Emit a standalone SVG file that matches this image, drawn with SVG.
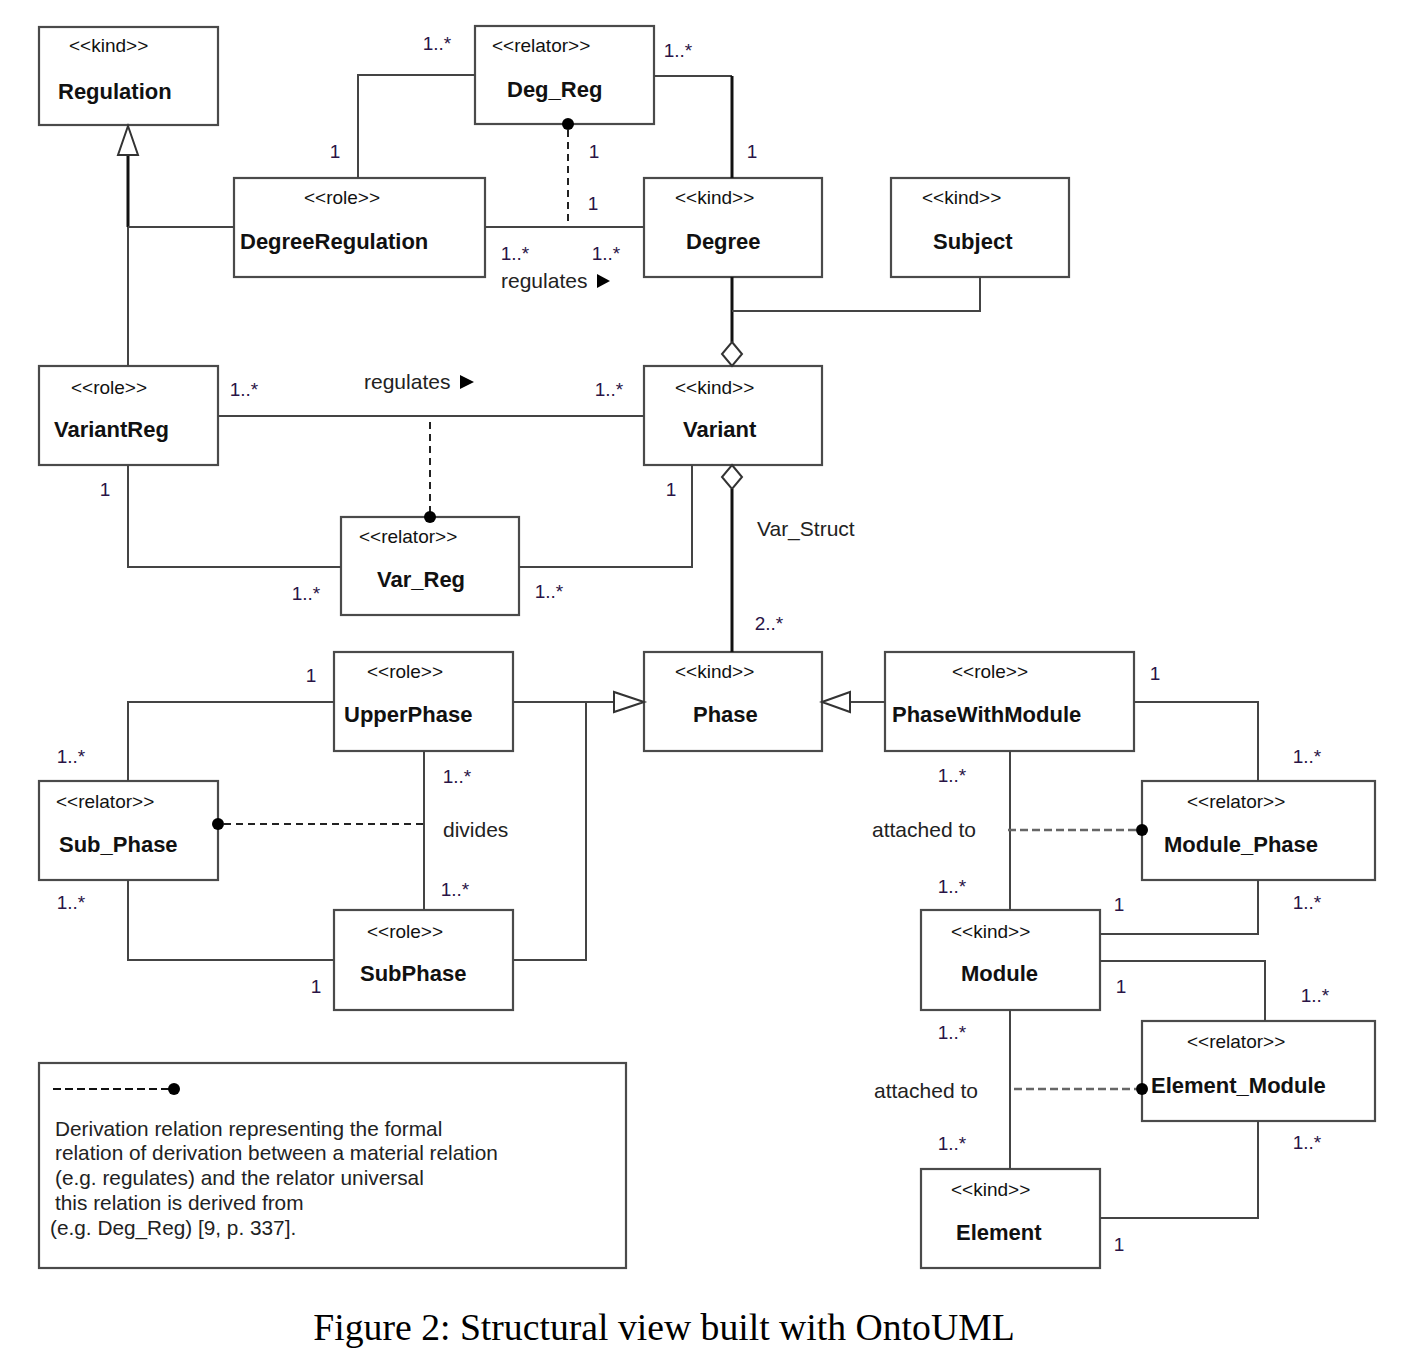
<svg xmlns="http://www.w3.org/2000/svg" width="1404" height="1364" viewBox="0 0 1404 1364">
<style>
.box{fill:#fff;stroke:#4a4a4a;stroke-width:2.2}
.st{font-family:"Liberation Sans",Arial,sans-serif;font-size:19px;fill:#111}
.nm{font-family:"Liberation Sans",Arial,sans-serif;font-size:22px;font-weight:bold;fill:#111}
.m{font-family:"Liberation Sans",Arial,sans-serif;font-size:19px;fill:#2a1446;text-anchor:middle}
.lb{font-family:"Liberation Sans",Arial,sans-serif;font-size:21px;fill:#222}
.lg{font-family:"Liberation Sans",Arial,sans-serif;font-size:20.8px;fill:#222}
.c{fill:none;stroke:#444;stroke-width:2}
.k{fill:none;stroke:#111;stroke-width:3}
.d{fill:none;stroke:#222;stroke-width:2;stroke-dasharray:7 5}
.dg{fill:none;stroke:#666;stroke-width:2.5;stroke-dasharray:8 4}
.hol{fill:#fff;stroke:#333;stroke-width:2}
.dot{fill:#000}
</style>
<rect width="1404" height="1364" fill="#fff"/>
<g id="Regulation"><rect class="box" x="39" y="27" width="179" height="98"/><text class="st" x="69" y="52">&lt;&lt;kind&gt;&gt;</text><text class="nm" x="58" y="99">Regulation</text></g>
<g id="Deg_Reg"><rect class="box" x="475" y="26" width="179" height="98"/><text class="st" x="492" y="52">&lt;&lt;relator&gt;&gt;</text><text class="nm" x="507" y="97">Deg_Reg</text></g>
<g id="DegreeRegulation"><rect class="box" x="234" y="178" width="251" height="99"/><text class="st" x="304" y="204">&lt;&lt;role&gt;&gt;</text><text class="nm" x="240" y="249">DegreeRegulation</text></g>
<g id="Degree"><rect class="box" x="644" y="178" width="178" height="99"/><text class="st" x="675" y="204">&lt;&lt;kind&gt;&gt;</text><text class="nm" x="686" y="249">Degree</text></g>
<g id="Subject"><rect class="box" x="891" y="178" width="178" height="99"/><text class="st" x="922" y="204">&lt;&lt;kind&gt;&gt;</text><text class="nm" x="933" y="249">Subject</text></g>
<g id="VariantReg"><rect class="box" x="39" y="366" width="179" height="99"/><text class="st" x="71" y="394">&lt;&lt;role&gt;&gt;</text><text class="nm" x="54" y="437">VariantReg</text></g>
<g id="Variant"><rect class="box" x="644" y="366" width="178" height="99"/><text class="st" x="675" y="394">&lt;&lt;kind&gt;&gt;</text><text class="nm" x="683" y="437">Variant</text></g>
<g id="Var_Reg"><rect class="box" x="341" y="517" width="178" height="98"/><text class="st" x="359" y="543">&lt;&lt;relator&gt;&gt;</text><text class="nm" x="377" y="587">Var_Reg</text></g>
<g id="UpperPhase"><rect class="box" x="334" y="652" width="179" height="99"/><text class="st" x="367" y="678">&lt;&lt;role&gt;&gt;</text><text class="nm" x="344" y="722">UpperPhase</text></g>
<g id="Phase"><rect class="box" x="644" y="652" width="178" height="99"/><text class="st" x="675" y="678">&lt;&lt;kind&gt;&gt;</text><text class="nm" x="693" y="722">Phase</text></g>
<g id="PhaseWithModule"><rect class="box" x="885" y="652" width="249" height="99"/><text class="st" x="952" y="678">&lt;&lt;role&gt;&gt;</text><text class="nm" x="892" y="722">PhaseWithModule</text></g>
<g id="Sub_Phase"><rect class="box" x="39" y="781" width="179" height="99"/><text class="st" x="56" y="808">&lt;&lt;relator&gt;&gt;</text><text class="nm" x="59" y="852">Sub_Phase</text></g>
<g id="SubPhase"><rect class="box" x="334" y="910" width="179" height="100"/><text class="st" x="367" y="938">&lt;&lt;role&gt;&gt;</text><text class="nm" x="360" y="981">SubPhase</text></g>
<g id="Module_Phase"><rect class="box" x="1142" y="781" width="233" height="99"/><text class="st" x="1187" y="808">&lt;&lt;relator&gt;&gt;</text><text class="nm" x="1164" y="852">Module_Phase</text></g>
<g id="Module"><rect class="box" x="921" y="910" width="179" height="100"/><text class="st" x="951" y="938">&lt;&lt;kind&gt;&gt;</text><text class="nm" x="961" y="981">Module</text></g>
<g id="Element_Module"><rect class="box" x="1142" y="1021" width="233" height="100"/><text class="st" x="1187" y="1048">&lt;&lt;relator&gt;&gt;</text><text class="nm" x="1151" y="1093">Element_Module</text></g>
<g id="Element"><rect class="box" x="921" y="1169" width="179" height="99"/><text class="st" x="951" y="1196">&lt;&lt;kind&gt;&gt;</text><text class="nm" x="956" y="1240">Element</text></g>
<g id="Legend">
<rect class="box" x="39" y="1063" width="587" height="205"/>
<path fill="none" stroke="#111" stroke-width="2" stroke-dasharray="8 4" d="M53,1089 H170"/>
<circle class="dot" cx="174" cy="1089" r="6"/>
<text class="lg" x="55" y="1136">Derivation relation representing the formal</text>
<text class="lg" x="55" y="1160">relation of derivation between a material relation</text>
<text class="lg" x="55" y="1185">(e.g. regulates) and the relator universal</text>
<text class="lg" x="55" y="1210">this relation is derived from</text>
<text class="lg" x="50" y="1235">(e.g. Deg_Reg) [9, p. 337].</text>
</g>
<g id="connectors">
<path class="c" d="M128,366 V227"/>
<path class="k" d="M128,227 V155"/>
<path class="c" d="M234,227 H128"/>
<polygon class="hol" points="128,126 118,155 138,155"/>
<path class="c" d="M475,75 H358 V178"/>
<path class="c" d="M654,76 H732"/>
<path class="k" d="M732,76 V178"/>
<path class="c" d="M485,227 H644"/>
<path class="d" d="M568,130 V224"/>
<circle class="dot" cx="568" cy="124" r="6"/>
<path class="k" d="M732,277 V342"/>
<path class="c" d="M980,277 V311 H732"/>
<polygon class="hol" points="732,342 742,354 732,366 722,354"/>
<path class="c" d="M218,416 H644"/>
<path class="d" d="M430,422 V512"/>
<circle class="dot" cx="430" cy="517" r="6"/>
<path class="c" d="M128,465 V567 H341"/>
<path class="c" d="M519,567 H692 V465"/>
<polygon class="hol" points="732,465 742,477 732,489 722,477"/>
<path class="k" d="M732,489 V652"/>
<path class="c" d="M513,702 H614"/>
<path class="c" d="M513,960 H586 V702"/>
<polygon class="hol" points="644,702 614,692 614,712"/>
<path class="c" d="M885,702 H850"/>
<polygon class="hol" points="822,702 850,692 850,712"/>
<path class="c" d="M334,702 H128 V781"/>
<path class="c" d="M128,880 V960 H334"/>
<path class="c" d="M424,751 V910"/>
<path class="d" d="M224,824 H428"/>
<circle class="dot" cx="218" cy="824" r="6"/>
<path class="c" d="M1134,702 H1258 V781"/>
<path class="c" d="M1010,751 V910"/>
<path class="dg" d="M1008,830 H1136"/>
<circle class="dot" cx="1142" cy="830" r="6"/>
<path class="c" d="M1258,880 V934 H1100"/>
<path class="c" d="M1100,961 H1265 V1021"/>
<path class="c" d="M1010,1010 V1169"/>
<path class="dg" d="M1014,1089 H1136"/>
<circle class="dot" cx="1142" cy="1089" r="6"/>
<path class="c" d="M1258,1121 V1218 H1100"/>
</g>
<g id="labels">
<text class="m" x="437" y="50">1..*</text>
<text class="m" x="335" y="158">1</text>
<text class="m" x="678" y="57">1..*</text>
<text class="m" x="752" y="158">1</text>
<text class="m" x="594" y="158">1</text>
<text class="m" x="593" y="210">1</text>
<text class="m" x="515" y="260">1..*</text>
<text class="m" x="606" y="260">1..*</text>
<text class="lb" x="501" y="288">regulates</text>
<polygon points="597,274 610,281 597,288" fill="#000"/>
<text class="m" x="244" y="396">1..*</text>
<text class="m" x="609" y="396">1..*</text>
<text class="lb" x="364" y="389">regulates</text>
<polygon points="460,375 474,382 460,389" fill="#000"/>
<text class="m" x="105" y="496">1</text>
<text class="m" x="306" y="600">1..*</text>
<text class="m" x="549" y="598">1..*</text>
<text class="m" x="671" y="496">1</text>
<text class="lb" x="757" y="536">Var_Struct</text>
<text class="m" x="769" y="630">2..*</text>
<text class="m" x="311" y="682">1</text>
<text class="m" x="71" y="763">1..*</text>
<text class="m" x="71" y="909">1..*</text>
<text class="m" x="316" y="993">1</text>
<text class="m" x="457" y="783">1..*</text>
<text class="m" x="455" y="896">1..*</text>
<text class="lb" x="443" y="837">divides</text>
<text class="m" x="1155" y="680">1</text>
<text class="m" x="1307" y="763">1..*</text>
<text class="m" x="952" y="782">1..*</text>
<text class="m" x="952" y="893">1..*</text>
<text class="lb" x="872" y="837">attached to</text>
<text class="m" x="1119" y="911">1</text>
<text class="m" x="1307" y="909">1..*</text>
<text class="m" x="1121" y="993">1</text>
<text class="m" x="1315" y="1002">1..*</text>
<text class="m" x="952" y="1039">1..*</text>
<text class="m" x="952" y="1150">1..*</text>
<text class="lb" x="874" y="1098">attached to</text>
<text class="m" x="1307" y="1149">1..*</text>
<text class="m" x="1119" y="1251">1</text>
</g>
<text x="664" y="1340" text-anchor="middle" font-family="'Liberation Serif','Times New Roman',serif" font-size="37.7" fill="#000">Figure 2: Structural view built with OntoUML</text>
</svg>
